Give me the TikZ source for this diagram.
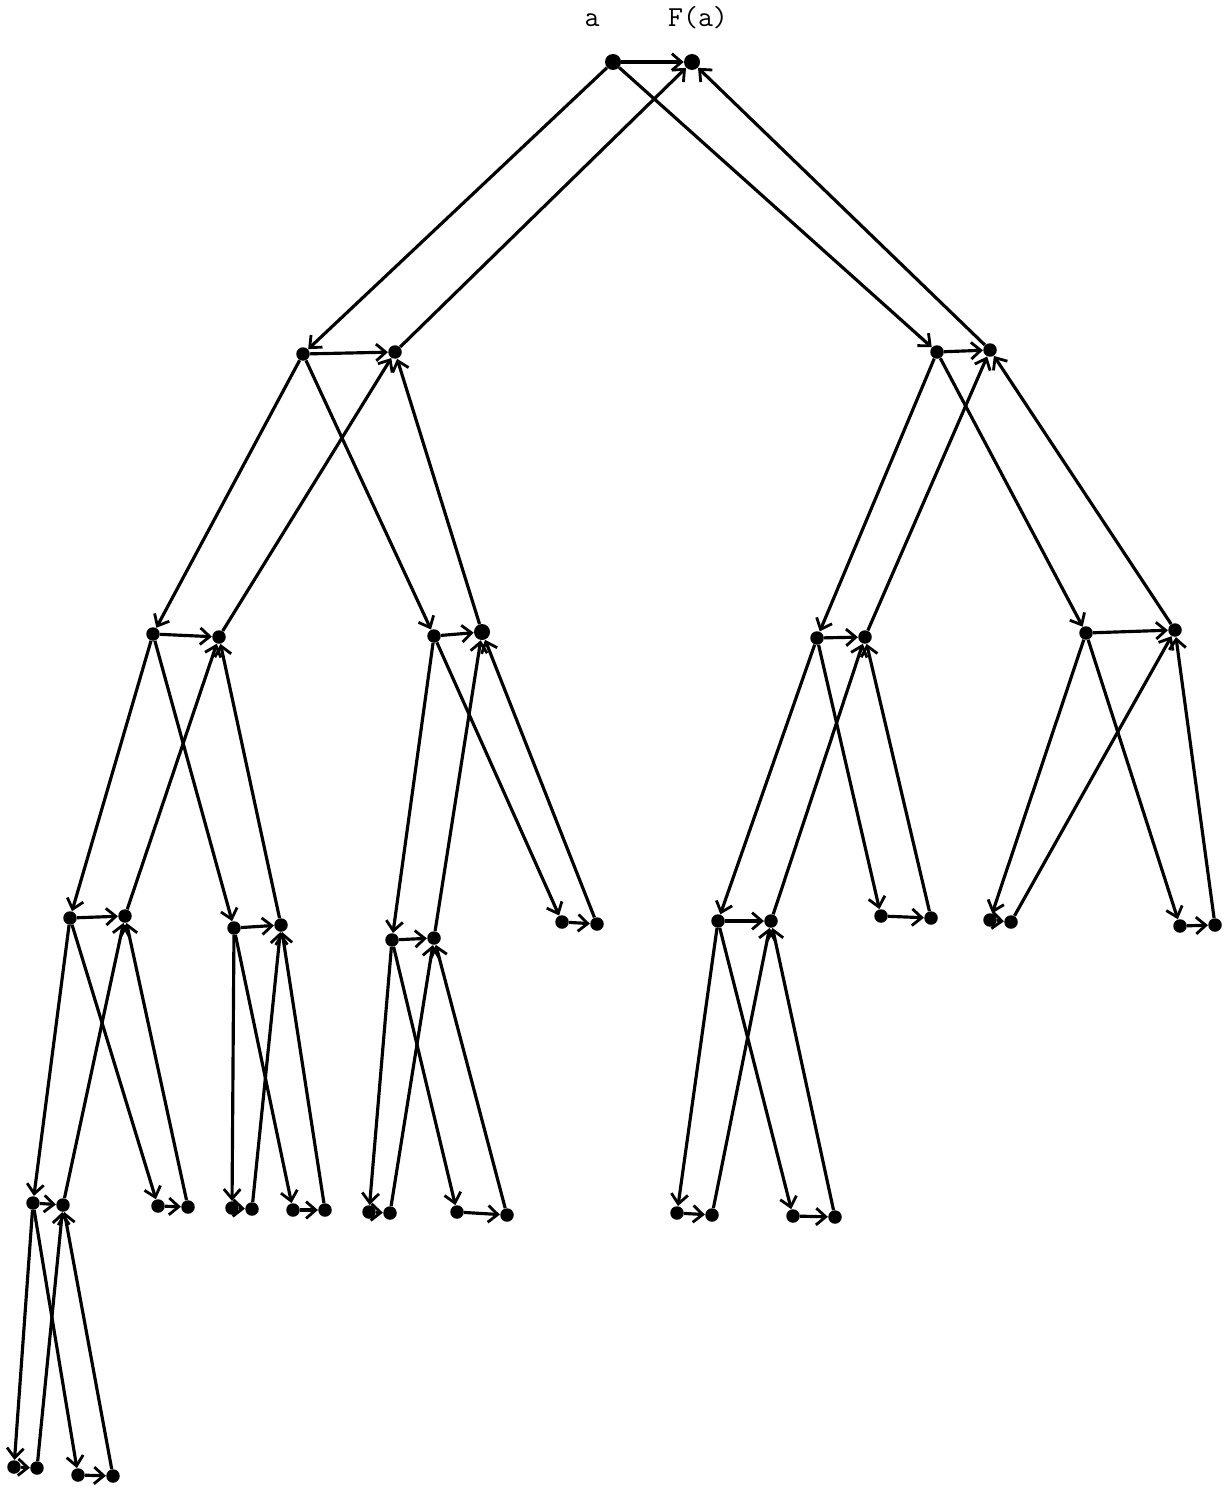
\documentclass[tikz,border=0pt]{standalone}
\usetikzlibrary{arrows.meta}
\begin{document}
\begin{tikzpicture}[x=0.02cm,y=-0.02cm,
  dot/.style={circle,fill=black,inner sep=0pt,minimum size=0.27cm},
  bigdot/.style={circle,fill=black,inner sep=0pt,minimum size=0.32cm},
  conn/.style={line width=1.8pt,-{Straight Barb[length=5.5pt,width=9.5pt,line width=1.6pt]}},
  lbl/.style={font=\ttfamily\fontsize{16.5}{18}\selectfont,inner sep=0pt}]
\useasboundingbox (0,0) rectangle (1225,1490);
% labels
\node[lbl] (la) at (592,20) {a};
\node[lbl] (lfa) at (698,18) {F(a)};
% dots: pairs (left = x, right = F(x))
\node[bigdot] (Al) at (613,62) {};  \node[bigdot] (Ar) at (692,62) {};
\node[dot] (B1l) at (303,354) {};   \node[dot] (B1r) at (395,352) {};
\node[dot] (B2l) at (937,352) {};   \node[dot] (B2r) at (990,350) {};
\node[dot] (C1l) at (153,634) {};   \node[dot] (C1r) at (219,637) {};
\node[dot] (C2l) at (434,636) {};   \node[bigdot] (C2r) at (482,632) {};
\node[dot] (C3l) at (817,638) {};   \node[dot] (C3r) at (865,637) {};
\node[dot] (C4l) at (1086,633) {};  \node[dot] (C4r) at (1175,630) {};
\node[dot] (D1l) at (70,918) {};    \node[dot] (D1r) at (125,916) {};
\node[dot] (D2l) at (234,928) {};   \node[dot] (D2r) at (281,925) {};
\node[dot] (D3l) at (392,940) {};   \node[dot] (D3r) at (434,938) {};
\node[dot] (D4l) at (562,922) {};   \node[dot] (D4r) at (597,924) {};
\node[dot] (D5l) at (718,921) {};   \node[dot] (D5r) at (771,921) {};
\node[dot] (D6l) at (881,916) {};   \node[dot] (D6r) at (931,918) {};
\node[dot] (D7l) at (990,920) {};   \node[dot] (D7r) at (1011,922) {};
\node[dot] (D8l) at (1180,926) {};  \node[dot] (D8r) at (1215,925) {};
\node[dot] (E1l) at (33,1203) {};   \node[dot] (E1r) at (63,1205) {};
\node[dot] (E2l) at (158,1206) {};  \node[dot] (E2r) at (188,1207) {};
\node[dot] (E3l) at (232,1208) {};  \node[dot] (E3r) at (252,1209) {};
\node[dot] (E4l) at (293,1210) {};  \node[dot] (E4r) at (325,1210) {};
\node[dot] (E5l) at (369,1212) {};  \node[dot] (E5r) at (390,1213) {};
\node[dot] (E6l) at (457,1212) {};  \node[dot] (E6r) at (507,1215) {};
\node[dot] (E7l) at (677,1213) {};  \node[dot] (E7r) at (712,1215) {};
\node[dot] (E8l) at (793,1216) {};  \node[dot] (E8r) at (835,1217) {};
\node[dot] (F1l) at (14,1467) {};   \node[dot] (F1r) at (37,1468) {};
\node[dot] (F2l) at (78,1475) {};   \node[dot] (F2r) at (113,1476) {};
% horizontal arrows x -> F(x)
\foreach \n in {A,B1,B2,C1,C2,C3,C4,D1,D2,D3,D4,D5,D6,D7,D8,E1,E2,E3,E4,E5,E6,E7,E8,F1,F2}
  \draw[conn] (\n l) -- (\n r);
% tree edges: parent left -> child left, child right -> parent right
\foreach \p/\c in {A/B1,A/B2,B1/C1,B1/C2,B2/C3,B2/C4,C1/D1,C1/D2,C2/D3,C2/D4,C3/D5,C3/D6,C4/D7,C4/D8,D1/E1,D1/E2,D2/E3,D2/E4,D3/E5,D3/E6,D5/E7,D5/E8,E1/F1,E1/F2}{
  \draw[conn] (\p l) -- (\c l);
  \draw[conn] (\c r) -- (\p r);
}
\end{tikzpicture}
\end{document}
